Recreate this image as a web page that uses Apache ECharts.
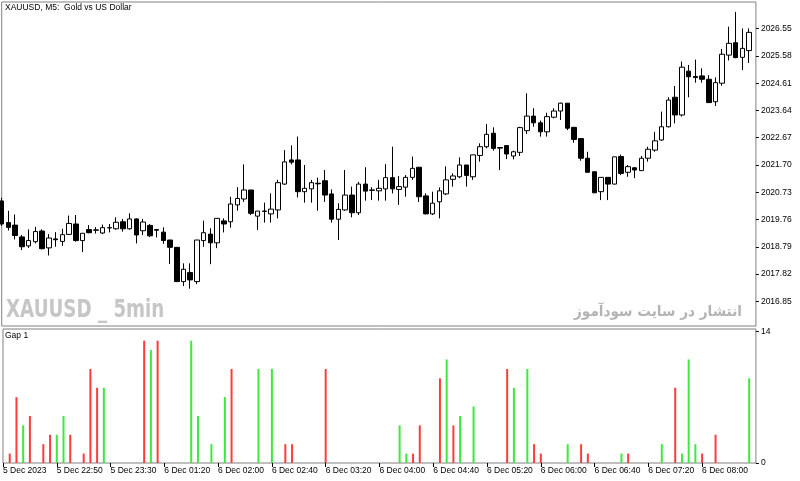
<!DOCTYPE html>
<html>
<head>
<meta charset="utf-8">
<script src="https://cdn.jsdelivr.net/npm/echarts@6/dist/echarts.min.js"></script>
<style>
	html, body { margin: 0; padding: 0; background: #fff; }
	#chart { width: 800px; height: 481px; }
</style>
</head>
<body>
<div id="chart"></div>
<script>
// time labels (one every 8 bars)
var timeLabels = ['5 Dec 2023', '5 Dec 22:50', '5 Dec 23:30', '6 Dec 01:20', '6 Dec 02:00', '6 Dec 02:40', '6 Dec 03:20',
	'6 Dec 04:00', '6 Dec 04:40', '6 Dec 05:20', '6 Dec 06:00', '6 Dec 06:40', '6 Dec 07:20', '6 Dec 08:00'];

var priceTicks = [2016.85, 2017.82, 2018.79, 2019.76, 2020.73, 2021.70, 2022.67, 2023.64, 2024.61, 2025.58, 2026.55];
var gapTicks = [0, 14];

// OHLC, 5 min bars
var opens = [2020.42, 2019.65, 2019.56, 2019.14, 2018.82, 2018.97, 2019.35, 2018.75, 2019.07, 2018.98,
	2019.23, 2019.60, 2019.01, 2019.40, 2019.39, 2019.28, 2019.46, 2019.43, 2019.68, 2019.43,
	2019.78, 2019.36, 2019.55, 2019.40, 2019.31, 2019.03, 2018.77, 2017.55, 2017.87, 2017.55,
	2019.01, 2019.24, 2018.93, 2019.71, 2019.68, 2020.28, 2020.49, 2020.81, 2019.88, 2020.06,
	2019.96, 2020.10, 2021.02, 2021.88, 2021.88, 2020.75, 2020.85, 2021.05, 2021.14, 2020.67,
	2019.77, 2020.10, 2020.63, 2020.00, 2021.02, 2020.81, 2020.78, 2020.85, 2021.25, 2020.83,
	2020.91, 2021.26, 2021.62, 2020.60, 2019.96, 2020.39, 2020.67, 2021.19, 2021.28, 2021.70,
	2021.28, 2022.04, 2022.35, 2022.83, 2022.32, 2022.39, 2022.02, 2022.15, 2022.92, 2023.44,
	2023.20, 2022.88, 2023.40, 2023.62, 2023.90, 2023.04, 2022.64, 2021.94, 2021.46, 2020.75,
	2021.26, 2021.02, 2022.00, 2021.44, 2021.60, 2021.50, 2021.94, 2022.23, 2022.59, 2023.06,
	2024.11, 2023.48, 2025.04, 2024.85, 2024.87, 2024.75, 2023.95, 2024.61, 2025.61, 2026.05,
	2025.53, 2025.77];
var closes = [2019.60, 2019.48, 2019.19, 2018.79, 2019.01, 2019.33, 2018.72, 2019.10, 2019.04, 2019.22,
	2019.62, 2019.01, 2019.27, 2019.29, 2019.38, 2019.47, 2019.47, 2019.66, 2019.43, 2019.78,
	2019.21, 2019.67, 2019.18, 2019.38, 2019.01, 2018.77, 2017.55, 2017.99, 2017.61, 2019.03,
	2019.29, 2018.93, 2019.80, 2019.60, 2020.31, 2020.51, 2020.81, 2019.98, 2020.06, 2020.05,
	2020.13, 2021.07, 2021.81, 2021.80, 2020.75, 2020.87, 2021.07, 2021.03, 2020.63, 2019.77,
	2020.12, 2020.63, 2020.00, 2021.02, 2020.77, 2020.80, 2020.87, 2021.25, 2020.85, 2020.93,
	2021.26, 2021.58, 2020.57, 2019.96, 2020.34, 2020.78, 2021.17, 2021.31, 2021.70, 2021.33,
	2022.06, 2022.35, 2022.79, 2022.29, 2022.30, 2022.09, 2022.17, 2023.03, 2023.44, 2023.20,
	2022.88, 2023.42, 2023.62, 2023.90, 2023.01, 2022.61, 2021.94, 2021.44, 2020.71, 2021.26,
	2021.02, 2021.99, 2021.40, 2021.64, 2021.52, 2021.94, 2022.26, 2022.56, 2023.06, 2024.01,
	2023.48, 2025.18, 2024.84, 2024.81, 2024.75, 2023.92, 2024.63, 2025.64, 2026.03, 2025.52,
	2025.85, 2026.42];
var lows = [2019.53, 2019.37, 2019.05, 2018.67, 2018.75, 2018.91, 2018.70, 2018.48, 2018.79, 2018.82,
	2019.21, 2018.97, 2018.60, 2019.27, 2019.26, 2019.24, 2019.30, 2019.40, 2019.33, 2019.40,
	2018.91, 2019.21, 2019.14, 2019.12, 2018.89, 2018.18, 2017.54, 2017.39, 2017.30, 2017.46,
	2018.79, 2018.17, 2018.74, 2019.30, 2019.47, 2020.07, 2020.39, 2019.92, 2019.39, 2019.65,
	2019.65, 2019.80, 2020.99, 2021.72, 2020.55, 2020.36, 2020.36, 2020.07, 2020.39, 2019.65,
	2019.03, 2020.07, 2019.84, 2019.92, 2020.43, 2020.45, 2020.43, 2020.43, 2020.69, 2020.28,
	2020.57, 2021.17, 2020.38, 2019.94, 2019.92, 2019.80, 2020.63, 2020.93, 2021.23, 2020.93,
	2021.17, 2021.82, 2022.29, 2022.21, 2021.52, 2021.91, 2021.90, 2022.02, 2022.80, 2023.06,
	2022.71, 2022.71, 2023.36, 2023.30, 2022.94, 2022.49, 2021.85, 2021.44, 2020.70, 2020.45,
	2020.45, 2021.01, 2021.34, 2021.28, 2021.23, 2021.49, 2021.82, 2022.17, 2022.56, 2023.04,
	2023.18, 2023.42, 2024.11, 2024.63, 2024.63, 2023.91, 2023.80, 2024.52, 2025.42, 2025.50,
	2025.08, 2025.33];
var highs = [2020.53, 2020.07, 2019.94, 2019.21, 2019.41, 2019.50, 2019.41, 2019.24, 2019.31, 2019.43,
	2019.90, 2019.92, 2019.28, 2019.56, 2019.49, 2019.58, 2019.60, 2019.84, 2019.78, 2019.98,
	2019.80, 2019.78, 2019.60, 2019.42, 2019.48, 2019.03, 2018.78, 2018.20, 2018.20, 2019.03,
	2019.72, 2019.45, 2019.80, 2019.80, 2020.57, 2020.91, 2021.72, 2020.81, 2020.06, 2020.36,
	2020.69, 2021.17, 2022.23, 2022.40, 2022.71, 2021.70, 2021.17, 2021.25, 2021.52, 2020.83,
	2020.34, 2021.52, 2020.93, 2021.10, 2021.62, 2020.91, 2021.17, 2021.73, 2022.35, 2021.31,
	2021.34, 2022.00, 2021.62, 2020.69, 2020.75, 2020.90, 2021.65, 2021.40, 2021.97, 2021.70,
	2022.06, 2022.47, 2023.16, 2023.04, 2022.33, 2022.39, 2022.21, 2023.06, 2024.25, 2023.72,
	2023.28, 2023.56, 2023.72, 2023.92, 2023.90, 2023.04, 2022.64, 2022.17, 2021.46, 2021.26,
	2021.26, 2021.99, 2022.07, 2021.70, 2021.63, 2022.02, 2022.35, 2022.88, 2023.60, 2024.11,
	2024.51, 2025.38, 2025.26, 2025.45, 2025.14, 2024.90, 2024.82, 2025.83, 2026.62, 2027.15,
	2026.56, 2026.56];

// Gap 1 indicator: bar index, size, colour (r / g)
var gapIdx = [1, 2, 3, 4, 6, 7, 8, 9, 10, 12, 13, 14, 15, 21, 22, 23, 28, 29, 31, 33,
	34, 38, 40, 42, 43, 48, 59, 60, 61, 62, 65, 66, 67, 68, 70, 75, 76, 78, 79, 80,
	84, 86, 87, 92, 93, 98, 100, 101, 102, 103, 104, 106, 111];
var gapVal = [1, 7, 4, 5, 2, 3, 3, 5, 3, 1, 10, 8, 8, 13, 12, 13, 13, 5, 2, 7,
	10, 10, 10, 2, 2, 10, 4, 1, 1, 4, 9, 11, 4, 5, 6, 10, 8, 10, 2, 1,
	2, 2, 1, 1, 1, 2, 8, 1, 11, 2, 1, 3, 9];
var gapDir = ['r', 'r', 'g', 'r', 'r', 'r', 'g', 'g', 'r', 'r', 'r', 'r', 'g', 'r', 'g', 'r', 'g', 'g', 'g', 'g',
	'r', 'g', 'g', 'r', 'r', 'r', 'g', 'g', 'r', 'r', 'r', 'g', 'r', 'g', 'g', 'r', 'g', 'g', 'r', 'r',
	'g', 'r', 'r', 'g', 'r', 'g', 'r', 'g', 'g', 'g', 'r', 'r', 'g'];

var nBars = opens.length + 1; // one empty slot on the right
var cats = [];
for (var i = 0; i < nBars; i++) cats.push(i);

var kData = [];
for (var i = 0; i < opens.length; i++) {
	kData.push([opens[i], closes[i], lows[i], highs[i]]);
}

var gapData = [];
for (var i = 0; i < nBars; i++) gapData.push(null);
for (var j = 0; j < gapIdx.length; j++) {
	gapData[gapIdx[j]] = {
		value: gapVal[j],
		itemStyle: { color: gapDir[j] == 'r' ? '#ff3b3b' : '#3ee83e' }
	};
}

var font = 'Liberation Sans, Arial, sans-serif';
var labelEvery8 = function (idx) { return idx % 8 === 0 && idx / 8 < timeLabels.length; };

var myChart = echarts.init(document.getElementById('chart'));
var option = {
	animation: false,
	backgroundColor: '#fff',
	textStyle: { fontFamily: font },
	grid: [{
		left: 1.7, right: 44.1, top: 2, height: 324,
		show: true, borderColor: '#808080', borderWidth: 1
	}, {
		left: 1.7, right: 44.1, top: 329, bottom: 18,
		show: true, borderColor: '#808080', borderWidth: 1
	}],
	xAxis: [{
		type: 'category', gridIndex: 0, data: cats, boundaryGap: false,
		axisLine: { show: false }, axisTick: { show: false }, axisLabel: { show: false }, splitLine: { show: false }
	}, {
		type: 'category', gridIndex: 1, data: cats, boundaryGap: false,
		axisLine: { show: false },
		axisTick: { show: true, interval: labelEvery8, length: 4, lineStyle: { color: '#000' } },
		axisLabel: {
			interval: labelEvery8, align: 'left', margin: 3, fontSize: 8.5, color: '#000', fontFamily: font,
			formatter: function (v, idx) { return timeLabels[idx / 8] || ''; }
		},
		splitLine: { show: false }
	}],
	yAxis: [{
		type: 'value', gridIndex: 0, position: 'right', min: 2015.97, max: 2027.50,
		axisLine: { show: false },
		axisTick: { show: true, length: 3, customValues: priceTicks, lineStyle: { color: '#000' } },
		axisLabel: {
			customValues: priceTicks, margin: 5, fontSize: 8.5, color: '#000', fontFamily: font,
			formatter: function (v) { return v.toFixed(2); }
		},
		splitLine: { show: false }
	}, {
		type: 'value', gridIndex: 1, position: 'right', min: 0, max: 14.24,
		axisLine: { show: false },
		axisTick: { show: true, length: 3, customValues: gapTicks, lineStyle: { color: '#000' } },
		axisLabel: { customValues: gapTicks, margin: 5, fontSize: 8.5, color: '#000', fontFamily: font },
		splitLine: { show: false }
	}],
	graphic: [{
		type: 'text', left: 5, top: 3,
		style: { text: 'XAUUSD, M5:  Gold vs US Dollar', fontSize: 8.5, fontFamily: font, fill: '#000' }
	}, {
		type: 'text', left: 5, top: 331,
		style: { text: 'Gap 1', fontSize: 8.5, fontFamily: font, fill: '#000' }
	}, {
		// watermark, squeezed to look like a narrow bold face
		type: 'text', x: 6, y: 298, scaleX: 0.73, z: -1,
		style: {
			text: 'XAUUSD _ 5min', fontSize: 25, fontWeight: 'bold',
			fontFamily: 'DejaVu Sans, sans-serif',
			fill: '#c6c6c6', textBaseline: 'top'
		}
	}, {
		type: 'text', x: 742, y: 305, scaleX: 0.91, z: -1,
		style: {
			text: 'انتشار در سایت سودآموز', fontSize: 15, fontWeight: 'bold',
			fontFamily: 'DejaVu Sans, sans-serif', fill: '#b4b4b4',
			align: 'right', textBaseline: 'top'
		}
	}],
	series: [{
		name: 'XAUUSD', type: 'candlestick', xAxisIndex: 0, yAxisIndex: 0,
		data: kData, barWidth: 5, clip: true,
		itemStyle: {
			color: '#fff', color0: '#000',
			borderColor: '#000', borderColor0: '#000', borderColorDoji: '#000',
			borderWidth: 1
		}
	}, {
		name: 'Gap 1', type: 'bar', xAxisIndex: 1, yAxisIndex: 1,
		data: gapData, barWidth: 2
	}]
};
myChart.setOption(option);
</script>
</body>
</html>
